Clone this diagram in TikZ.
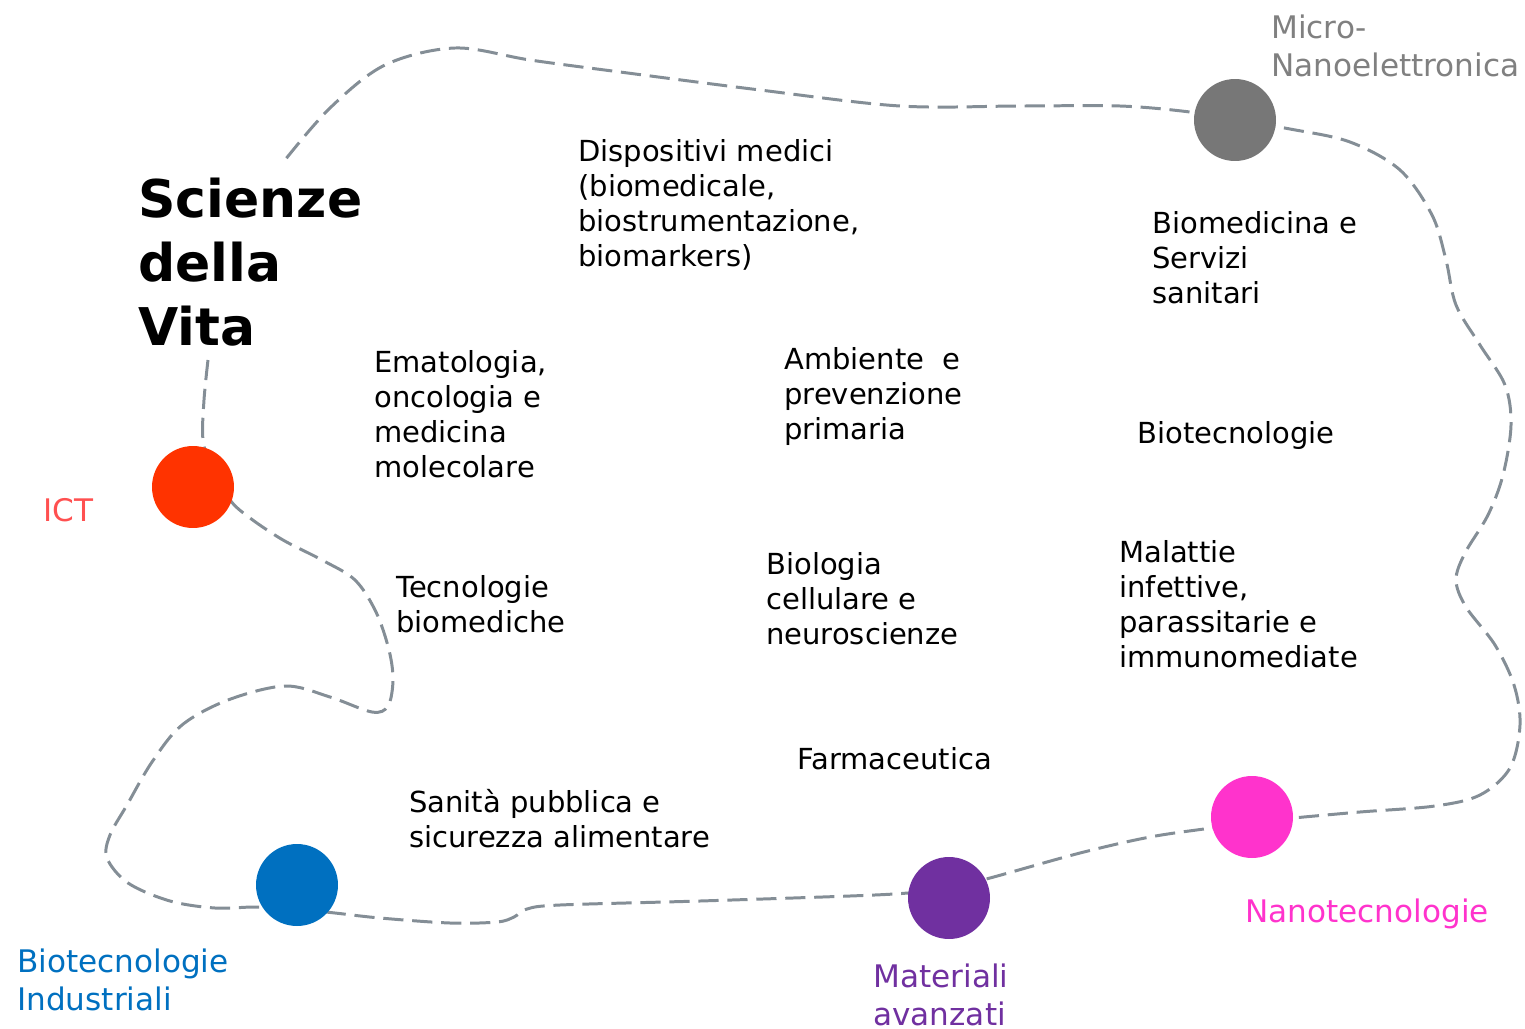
\documentclass[tikz,border=0pt]{standalone}
\usepackage{fontspec}
\setmainfont{DejaVu Sans}
\definecolor{trailgray}{RGB}{132,142,150}
\definecolor{ictred}{RGB}{255,51,0}
\definecolor{icttext}{RGB}{255,80,80}
\definecolor{microgray}{RGB}{119,119,119}
\definecolor{microtext}{RGB}{128,128,128}
\definecolor{biotecblue}{RGB}{0,112,192}
\definecolor{matviolet}{RGB}{112,48,160}
\definecolor{nanopink}{RGB}{255,51,204}
\begin{document}
\begin{tikzpicture}[x=.02cm,y=-.02cm,line join=round,
  trail/.style={draw=trailgray,line width=1.7pt,dash pattern=on 11.5pt off 5pt},
  dot/.style={circle,inner sep=0pt,minimum size=1.64cm},
  topic/.style={anchor=base west,inner sep=0pt,align=left,font=\fontsize{16.5}{19.8}\selectfont},
  pole/.style={anchor=base west,inner sep=0pt,align=left,font=\fontsize{17.7}{21.3}\selectfont}]
\useasboundingbox (0,0) rectangle (1525,1028);
% Dashed outline round the whole area.
\draw[trail] plot[smooth,tension=.55] coordinates {
  (208,360) (204,400) (203,440) (212,468) (230,500) (250,518) (283,540)
  (322,560) (355,580) (376,612) (389,650) (393,680) (388,706) (372,712)
  (330,697) (285,686) (228,700) (182,725) (152,762) (127,805) (110,835)
  (107,858) (128,883) (170,901) (215,908) (256,907) (297,909) (335,913)
  (380,918) (450,923) (497,922) (514,917) (527,909) (560,905) (700,901)
  (850,896) (908,893) (949,888) (990,878) (1080,853) (1150,837) (1211,828)
  (1252,822) (1293,818) (1360,812) (1435,806) (1480,795) (1510,768)
  (1520,725) (1514,685) (1495,645) (1466,607) (1456,580) (1465,553)
  (1488,515) (1503,475) (1511,425) (1505,385) (1480,345) (1456,305)
  (1446,260) (1432,215) (1400,170) (1350,142) (1290,129) (1235,120)
  (1190,112) (1120,106) (1020,106) (900,106) (760,90) (620,72) (530,60)
  (455,48) (385,65) (330,108) (285,160)};

% Coloured poles on the outline (labels sit on their last baseline).
\node[dot,fill=ictred] (ict) at (193,487) {};
\node[dot,fill=microgray] (micro) at (1235,120) {};
\node[dot,fill=biotecblue] (biotec) at (297,885) {};
\node[dot,fill=matviolet] (materiali) at (949,898) {};
\node[dot,fill=nanopink] (nano) at (1252,817) {};
\node[pole,text=icttext] (ictlabel) at (43,521) {ICT};
\node[pole,text=microtext] (microlabel) at (1271,76) {Micro-\\Nanoelettronica};
\node[pole,text=biotecblue] (biotechlabel) at (17,1010) {Biotecnologie\\Industriali};
\node[pole,text=matviolet] (matlabel) at (873,1025) {Materiali\\avanzati};
\node[pole,text=nanopink] (nanolabel) at (1245,922) {Nanotecnologie};

% Title and topics inside.
\node[anchor=base west,inner sep=0pt,align=left,
  font=\fontsize{29.6}{36.3}\selectfont\bfseries] (title) at (138,345)
  {Scienze\\della\\Vita};
\node[topic] (dispositivi) at (578,266)
  {Dispositivi medici\\(biomedicale,\\biostrumentazione,\\biomarkers)};
\node[topic] (biomedicina) at (1152,303) {Biomedicina e\\Servizi\\sanitari};
\node[topic] (ematologia) at (374,477)
  {Ematologia,\\oncologia e\\medicina\\molecolare};
\node[topic] (ambiente) at (784,439) {Ambiente\ \ e\\prevenzione\\primaria};
\node[topic] (biotecnologie) at (1137,443) {Biotecnologie};
\node[topic] (malattie) at (1119,667)
  {Malattie\\infettive,\\parassitarie e\\immunomediate};
\node[topic] (tecnologie) at (396,632) {Tecnologie\\biomediche};
\node[topic] (biologia) at (766,644) {Biologia\\cellulare e\\neuroscienze};
\node[topic] (farmaceutica) at (797,769) {Farmaceutica};
\node[topic] (sanita) at (409,847) {Sanità pubblica e\\sicurezza alimentare};
\end{tikzpicture}
\end{document}
